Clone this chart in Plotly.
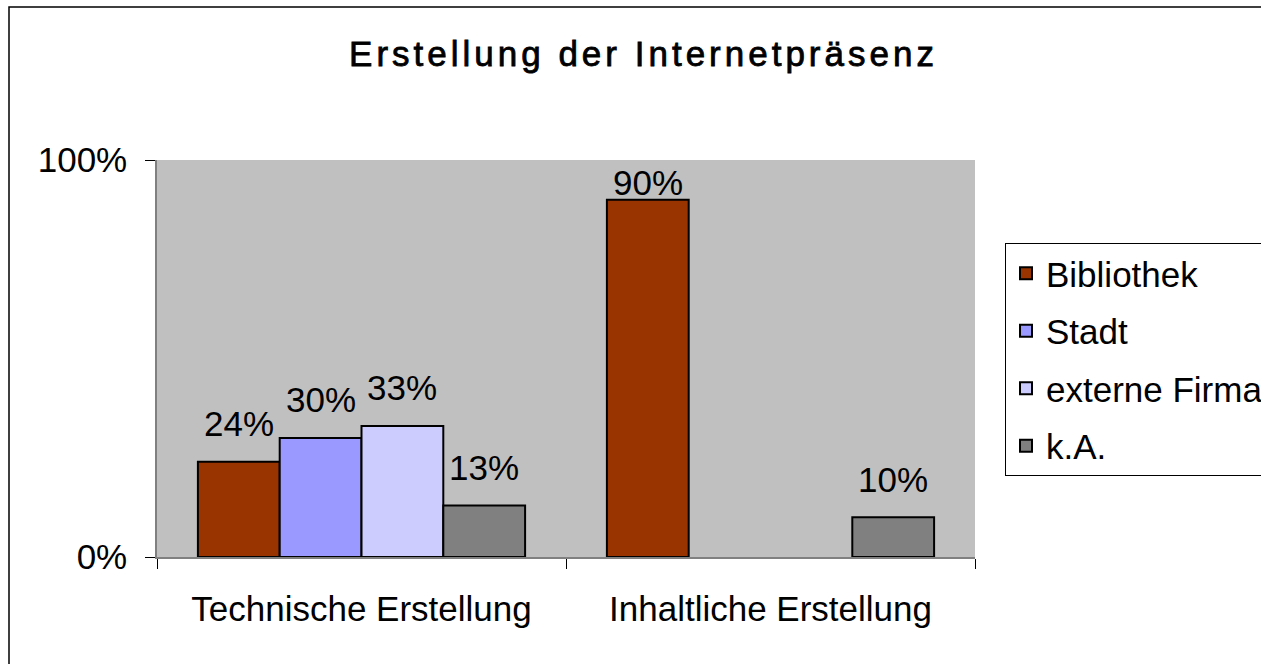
import plotly.graph_objects as go

# ---- data ----
categories = ["Technische Erstellung", "Inhaltliche Erstellung"]
series_names = ["Bibliothek", "Stadt", "externe Firma", "k.A."]
bibliothek = [0.24, 0.90]
stadt = [0.30, None]
externe_firma = [0.33, None]
ka = [0.13, 0.10]
y_tickvals = [0, 1]
y_ticktext = ["0%", "100%"]
title_text = "Erstellung der Internetpräsenz"

series_values = [bibliothek, stadt, externe_firma, ka]
colors = ["#993300", "#9999FF", "#CCCCFF", "#808080"]

W, H = 1261, 664
ML, MR, MT, MB = 157, 286, 160, 107
PW, PH = W - ML - MR, H - MT - MB
FONT = "Liberation Sans, Arial, sans-serif"
FS = 35

fig = go.Figure()
for i, (name, vals) in enumerate(zip(series_names, series_values)):
    fig.add_trace(go.Bar(
        name=name, x=categories, y=vals,
        marker=dict(color=colors[i], line=dict(color="black", width=2)),
        legendgroup=name,
    ))

# data labels
n = len(series_names)
bargap = 0.2
bw = (1 - bargap) / n
annotations = []
for i, vals in enumerate(series_values):
    for j, v in enumerate(vals):
        if v is None:
            continue
        xc = j - (1 - bargap) / 2 + bw * (i + 0.5)
        room = (1 - v) * PH
        shift = min(38, room - 22)
        annotations.append(dict(
            x=xc, y=v, xref="x", yref="y", text=f"{round(v*100)}%",
            showarrow=False, yanchor="middle", yshift=shift,
            font=dict(family=FONT, size=FS, color="black"),
        ))

fig.update_layout(
    width=W, height=H,
    margin=dict(l=ML, r=MR, t=MT, b=MB, autoexpand=False),
    paper_bgcolor="white", plot_bgcolor="#C0C0C0",
    barmode="group", bargap=bargap, bargroupgap=0,
    font=dict(family=FONT, size=FS, color="black"),
    title=dict(text=title_text, x=643.5 / W, xanchor="center",
               y=1 - 54 / H, yanchor="middle", yref="container",
               font=dict(family=FONT, size=35, color="black")),
    showlegend=True,
    legend=dict(
        x=(1005 - ML) / PW, y=(MT + PH - 243) / PH,
        xanchor="left", yanchor="top",
        bordercolor="black", borderwidth=1, bgcolor="white",
        font=dict(family=FONT, size=FS, color="black"),
        traceorder="grouped", tracegroupgap=9,
    ),
    annotations=annotations,
    shapes=[dict(type="rect", xref="paper", yref="paper",
                 x0=(9 - ML) / PW, x1=(W + 20 - ML) / PW,
                 y0=-(H + 20 - MT - PH) / PH, y1=(MT + PH - 7) / PH,
                 line=dict(color="black", width=1.5), fillcolor="rgba(0,0,0,0)",
                 layer="below")],
    xaxis=dict(
        type="category", range=[-0.5, 1.5], showgrid=False,
        showline=True, linecolor="#808080", linewidth=1.5,
        ticks="outside", tickson="boundaries", ticklen=10, tickcolor="black",
        tickfont=dict(family=FONT, size=FS, color="black"),
        ticklabelstandoff=20,
    ),
    yaxis=dict(
        range=[0, 1], showgrid=False, zeroline=False,
        showline=True, linecolor="#808080", linewidth=1.5,
        ticks="outside", ticklen=10, tickcolor="black",
        tickvals=y_tickvals, ticktext=y_ticktext,
        tickfont=dict(family=FONT, size=FS, color="black"),
        ticklabelstandoff=11,
    ),
)

fig.write_html(
    "out.html",
    config={"displayModeBar": False},
    post_script=(
        "document.body.style.margin='0';"
        "document.querySelectorAll('.gtitle').forEach(function(e){"
        "e.style.letterSpacing='4px';e.style.stroke='black';e.style.strokeWidth='0.8px';});"
    ),
)
